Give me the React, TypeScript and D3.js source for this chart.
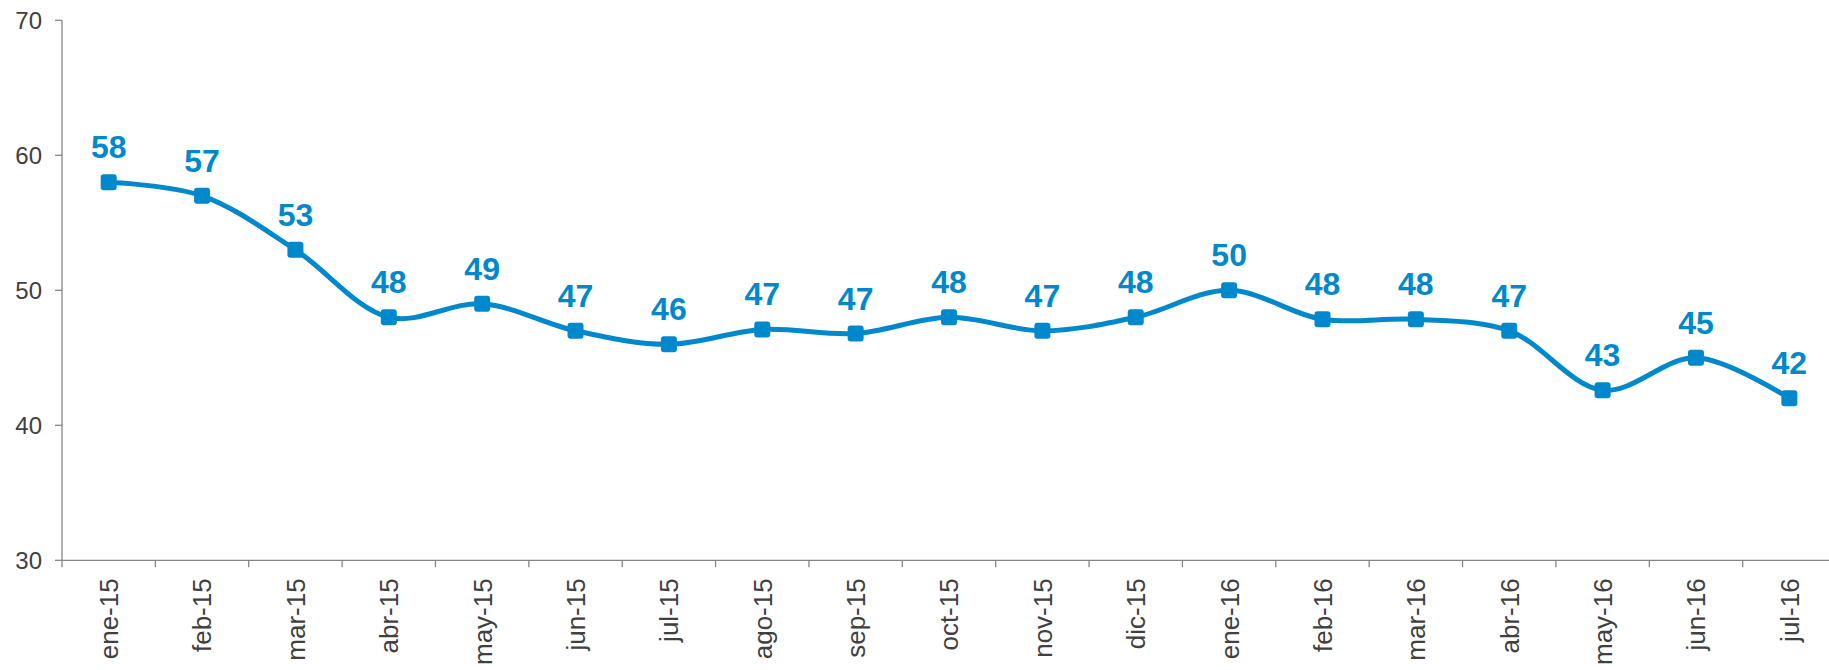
import React from 'react';
import * as d3 from 'd3';

// monthly series
const months = [
    'ene-15', 'feb-15', 'mar-15', 'abr-15', 'may-15', 'jun-15', 'jul-15',
    'ago-15', 'sep-15', 'oct-15', 'nov-15', 'dic-15', 'ene-16', 'feb-16',
    'mar-16', 'abr-16', 'may-16', 'jun-16', 'jul-16'
];
const values = [
    58, 57, 53, 48, 49, 47, 46, 47.1, 46.8, 48, 47, 48, 50, 47.85,
    47.85, 47, 42.6, 45, 42
];
const yTicks = [30, 40, 50, 60, 70];

const W = 1829;
const H = 670;
const blue = '#0088cc';
const axisColor = '#868686';
const textColor = '#404040';
const font = '"Liberation Sans", Arial, sans-serif';

export default function App()
{
    let margin = {top: 20.3, left: 62, bottom: 560.3};
    let band = 93.37;

    let x = d3.scaleBand()
        .domain(months)
        .range([margin.left, margin.left + band * months.length])
        .padding(0);

    let y = d3.scaleLinear()
        .domain([30, 70])
        .range([margin.bottom, margin.top]);

    let cx = (m: string) => (x(m) as number) + x.bandwidth() / 2;

    let line = d3.line<number>()
        .x((d, i) => cx(months[i]))
        .y(d => y(d))
        .curve(d3.curveCatmullRom.alpha(0.5));

    let xEdges = months.map(m => x(m) as number);

    return (
        <svg width={W} height={H}
             style={{position: 'absolute', left: 0, top: 0, background: '#fff'}}>
            {/* y axis */}
            <line x1={margin.left} x2={margin.left} y1={margin.top} y2={margin.bottom}
                  stroke={axisColor} strokeWidth={1.3}/>
            {yTicks.map(t => (
                <g key={t}>
                    <line x1={margin.left - 7} x2={margin.left} y1={y(t)} y2={y(t)}
                          stroke={axisColor} strokeWidth={1.3}/>
                    <text x={margin.left - 20} y={y(t)} dy="0.36em" textAnchor="end"
                          fontFamily={font} fontSize={24} fill={textColor}>{t}</text>
                </g>
            ))}

            {/* x axis */}
            <line x1={margin.left} x2={W} y1={margin.bottom} y2={margin.bottom}
                  stroke={axisColor} strokeWidth={1.3}/>
            {xEdges.map((e, i) => (
                <line key={i} x1={e} x2={e} y1={margin.bottom} y2={margin.bottom + 7}
                      stroke={axisColor} strokeWidth={1.3}/>
            ))}
            {months.map(m => (
                <text key={m} transform={`translate(${cx(m)},${margin.bottom + 18}) rotate(-90)`}
                      dy="0.36em" textAnchor="end"
                      fontFamily={font} fontSize={26} fill={textColor}>{m}</text>
            ))}

            {/* series */}
            <path d={line(values) || ''} fill="none" stroke={blue} strokeWidth={5}/>
            {values.map((v, i) => (
                <rect key={i} x={cx(months[i]) - 8} y={y(v) - 8} width={16} height={16}
                      rx={3} ry={3} fill={blue}/>
            ))}
            {values.map((v, i) => (
                <text key={i} x={cx(months[i])} y={y(v) - 24} textAnchor="middle"
                      fontFamily={font} fontSize={32} fontWeight="bold" fill={blue}>
                    {Math.round(v)}
                </text>
            ))}
        </svg>
    );
}
